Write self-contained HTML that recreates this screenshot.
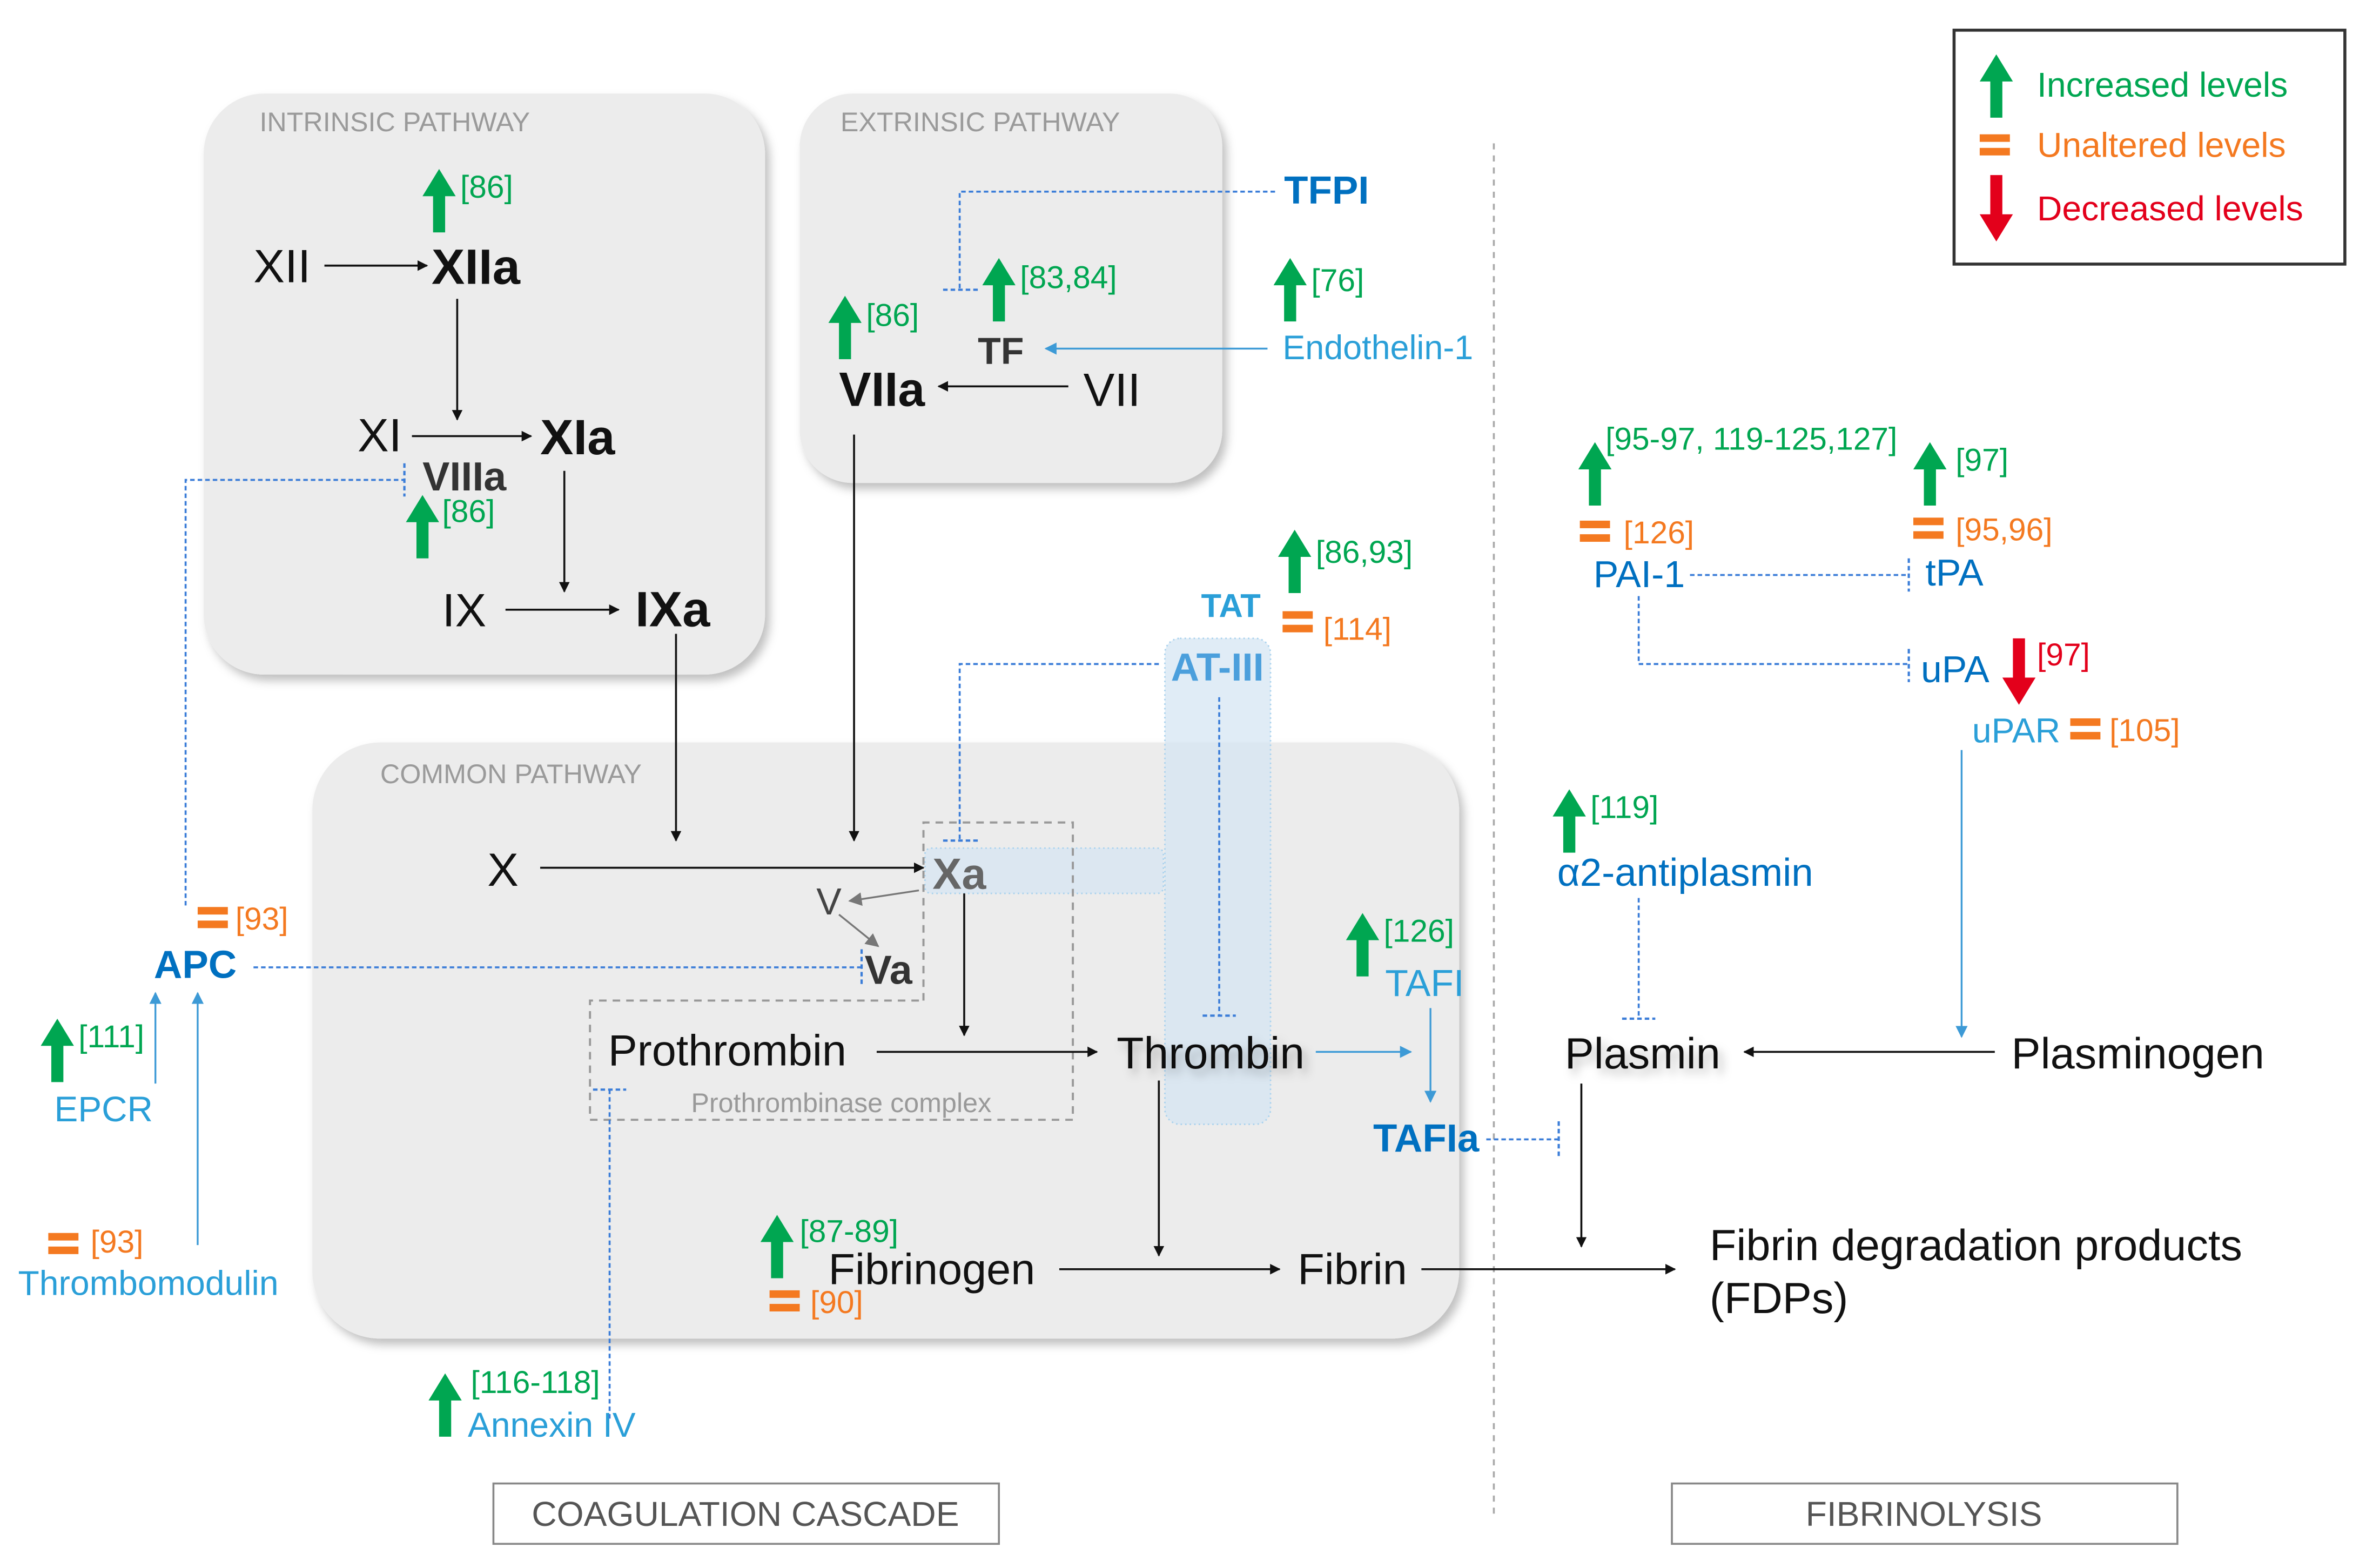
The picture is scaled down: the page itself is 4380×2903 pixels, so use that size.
<!DOCTYPE html>
<html><head><meta charset="utf-8"><style>
html,body{margin:0;padding:0;background:#fff}
svg{display:block}
text{font-family:"Liberation Sans",Arial,sans-serif}
.g{fill:#00a651;font-size:21px}
.o{fill:#f47920;font-size:21px}
.b{fill:#0070c0}
.lb{fill:#2a9fd8}
.k{fill:#111}
.lbl{fill:#9a9a9a;font-size:18px}
</style></head><body>
<svg width="4380" height="2903" viewBox="0 0 1568 1039" preserveAspectRatio="none" xmlns="http://www.w3.org/2000/svg">
<defs>
<path id="up" d="M0 0 L11 18 L4 18 L4 42 L-4 42 L-4 18 L-11 18 Z" fill="#00a651"/>
<path id="dn" d="M0 44 L11 26 L4 26 L4 0 L-4 0 L-4 26 L-11 26 Z" fill="#e3001b"/>
<g id="eq"><rect x="0" y="0" width="20" height="5" fill="#f47920"/><rect x="0" y="9" width="20" height="5" fill="#f47920"/></g>
<marker id="ah" viewBox="0 0 10 10" refX="9" refY="5" markerWidth="7" markerHeight="7" orient="auto" markerUnits="userSpaceOnUse"><path d="M0 0L10 5L0 10Z" fill="#111"/></marker>
<marker id="ahg" viewBox="0 0 10 10" refX="9" refY="5" markerWidth="9" markerHeight="9" orient="auto" markerUnits="userSpaceOnUse"><path d="M0 0L10 5L0 10Z" fill="#777"/></marker>
<marker id="ahb" viewBox="0 0 10 10" refX="9" refY="5" markerWidth="8" markerHeight="8" orient="auto" markerUnits="userSpaceOnUse"><path d="M0 0L10 5L0 10Z" fill="#3d9ad6"/></marker>
<filter id="sh" x="-10%" y="-10%" width="120%" height="120%"><feDropShadow dx="3" dy="4" stdDeviation="3" flood-color="#000" flood-opacity="0.25"/></filter>
</defs>
<rect width="1568" height="1039" fill="#fff"/>
<!-- boxes -->
<rect x="135" y="62" width="372" height="385" rx="40" fill="#ececec" filter="url(#sh)"/>
<rect x="530" y="62" width="280" height="258" rx="35" fill="#ececec" filter="url(#sh)"/>
<rect x="207" y="492" width="760" height="395" rx="45" fill="#ececec" filter="url(#sh)"/>
<text x="172" y="87" class="lbl">INTRINSIC PATHWAY</text>
<text x="557" y="87" class="lbl">EXTRINSIC PATHWAY</text>
<text x="252" y="519" class="lbl">COMMON PATHWAY</text>
<line x1="990" y1="95" x2="990" y2="1005" stroke="#aaa" stroke-width="1.3" stroke-dasharray="4 4"/>
<!-- legend -->
<rect x="1295" y="20" width="259" height="155" fill="#fff" stroke="#333" stroke-width="2"/>
<use href="#up" x="1323" y="36"/>
<text x="1350" y="64" style="fill:#00a651;font-size:23px">Increased levels</text>
<use href="#eq" x="1312" y="89"/>
<text x="1350" y="104" style="fill:#f47920;font-size:23px">Unaltered levels</text>
<use href="#dn" x="1323" y="116"/>
<text x="1350" y="146" style="fill:#e3001b;font-size:23px">Decreased levels</text>
<!-- bottom labels -->
<rect x="327" y="983" width="335" height="40" fill="#fff" stroke="#888" stroke-width="1.3"/>
<text x="494" y="1011" text-anchor="middle" style="fill:#555;font-size:23px">COAGULATION CASCADE</text>
<rect x="1108" y="983" width="335" height="40" fill="#fff" stroke="#888" stroke-width="1.3"/>
<text x="1275" y="1011" text-anchor="middle" style="fill:#555;font-size:23px">FIBRINOLYSIS</text>

<!-- intrinsic -->
<use href="#up" x="291" y="112"/><text x="305" y="131" class="g">[86]</text>
<text x="168" y="187" class="k" style="font-size:31px">XII</text>
<line x1="215" y1="176" x2="283" y2="176" stroke="#111" stroke-width="1.3" marker-end="url(#ah)"/>
<text x="286" y="188" class="k" style="font-size:33px;font-weight:bold">XIIa</text>
<line x1="303" y1="198" x2="303" y2="278" stroke="#111" stroke-width="1.3" marker-end="url(#ah)"/>
<text x="237" y="299" class="k" style="font-size:31px">XI</text>
<line x1="273" y1="289" x2="352" y2="289" stroke="#111" stroke-width="1.3" marker-end="url(#ah)"/>
<text x="358" y="301" class="k" style="font-size:33px;font-weight:bold">XIa</text>
<text x="280" y="325" style="fill:#333;font-size:27px;font-weight:bold">VIIIa</text>
<use href="#up" x="280" y="328"/><text x="293" y="346" class="g">[86]</text>
<line x1="374" y1="312" x2="374" y2="392" stroke="#111" stroke-width="1.3" marker-end="url(#ah)"/>
<text x="293" y="415" class="k" style="font-size:31px">IX</text>
<line x1="335" y1="404" x2="410" y2="404" stroke="#111" stroke-width="1.3" marker-end="url(#ah)"/>
<text x="421" y="415" class="k" style="font-size:33px;font-weight:bold">IXa</text>
<line x1="448" y1="420" x2="448" y2="557" stroke="#111" stroke-width="1.3" marker-end="url(#ah)"/>
<path d="M123 600 V318 H268" fill="none" stroke="#3b7dd8" stroke-width="1.3" stroke-dasharray="3 2"/>
<line x1="268" y1="307" x2="268" y2="329" stroke="#3b7dd8" stroke-width="1.5" stroke-dasharray="3 2"/>

<!-- extrinsic -->
<text x="851" y="135" class="b" style="font-size:26px;font-weight:bold">TFPI</text>
<path d="M845 127 H636 V192" fill="none" stroke="#3b7dd8" stroke-width="1.3" stroke-dasharray="3 2"/>
<line x1="625" y1="192" x2="648" y2="192" stroke="#3b7dd8" stroke-width="1.5" stroke-dasharray="3 2"/>
<use href="#up" x="662" y="171"/><text x="676" y="191" class="g">[83,84]</text>
<text x="648" y="241" style="fill:#333;font-size:25px;font-weight:bold">TF</text>
<use href="#up" x="560" y="196"/><text x="574" y="216" class="g">[86]</text>
<text x="556" y="269" class="k" style="font-size:32px;font-weight:bold">VIIa</text>
<line x1="708" y1="256" x2="622" y2="256" stroke="#111" stroke-width="1.3" marker-end="url(#ah)"/>
<text x="718" y="269" class="k" style="font-size:31px">VII</text>
<use href="#up" x="855" y="171"/><text x="869" y="193" class="g">[76]</text>
<text x="850" y="238" class="lb" style="font-size:22.5px">Endothelin-1</text>
<line x1="840" y1="231" x2="693" y2="231" stroke="#3d9ad6" stroke-width="1.2" marker-end="url(#ahb)"/>
<line x1="566" y1="288" x2="566" y2="557" stroke="#111" stroke-width="1.3" marker-end="url(#ah)"/>

<!-- AT-III / TAT -->
<rect x="772" y="423" width="70" height="322" rx="10" fill="#d6e6f3" fill-opacity="0.75" stroke="#a9d2ee" stroke-width="1" stroke-dasharray="1 2"/>
<rect x="613" y="562" width="158" height="30" rx="4" fill="#d6e6f3" fill-opacity="0.7" stroke="#a9d2ee" stroke-width="1" stroke-dasharray="1 2"/>
<text x="796" y="409" class="lb" style="font-size:22px;font-weight:bold">TAT</text>
<use href="#up" x="858" y="351"/><text x="872" y="373" class="g">[86,93]</text>
<use href="#eq" x="850" y="405"/><text x="877" y="424" class="o">[114]</text>
<text x="776" y="451" style="fill:#4b9fdc;font-size:26px;font-weight:bold">AT-III</text>
<path d="M768 440 H636 V557" fill="none" stroke="#3b7dd8" stroke-width="1.3" stroke-dasharray="3 2"/>
<line x1="625" y1="557" x2="648" y2="557" stroke="#3b7dd8" stroke-width="1.5" stroke-dasharray="3 2"/>
<line x1="808" y1="462" x2="808" y2="673" stroke="#3b7dd8" stroke-width="1.3" stroke-dasharray="3 2"/>
<line x1="797" y1="673" x2="819" y2="673" stroke="#3b7dd8" stroke-width="1.5" stroke-dasharray="3 2"/>

<!-- common -->
<path d="M612 663 V545 H711 V742 H391 V663 H612" fill="none" stroke="#999" stroke-width="1.4" stroke-dasharray="5 4"/>
<text x="323" y="587" class="k" style="font-size:31px">X</text>
<line x1="358" y1="575" x2="612" y2="575" stroke="#111" stroke-width="1.3" marker-end="url(#ah)"/>
<text x="618" y="589" style="fill:#666;font-size:29px;font-weight:bold">Xa</text>
<text x="541" y="606" style="fill:#444;font-size:25px">V</text>
<line x1="609" y1="590" x2="563" y2="597" stroke="#777" stroke-width="1.2" marker-end="url(#ahg)"/>
<line x1="556" y1="606" x2="582" y2="627" stroke="#777" stroke-width="1.2" marker-end="url(#ahg)"/>
<text x="573" y="652" style="fill:#333;font-size:27px;font-weight:bold">Va</text>
<line x1="168" y1="641" x2="571" y2="641" stroke="#3b7dd8" stroke-width="1.3" stroke-dasharray="3 2"/>
<line x1="571" y1="629" x2="571" y2="654" stroke="#3b7dd8" stroke-width="1.5" stroke-dasharray="3 2"/>
<text x="403" y="706" class="k" style="font-size:29px">Prothrombin</text>
<line x1="581" y1="697" x2="727" y2="697" stroke="#111" stroke-width="1.3" marker-end="url(#ah)"/>
<line x1="639" y1="592" x2="639" y2="686" stroke="#111" stroke-width="1.3" marker-end="url(#ah)"/>
<text x="458" y="737" style="fill:#999;font-size:18px">Prothrombinase complex</text>
<text x="740" y="708" class="k" style="font-size:29.5px" filter="url(#sh)">Thrombin</text>
<line x1="872" y1="697" x2="935" y2="697" stroke="#3d9ad6" stroke-width="1.2" marker-end="url(#ahb)"/>
<use href="#up" x="903" y="605"/><text x="917" y="624" class="g">[126]</text>
<text x="918" y="660" class="lb" style="font-size:25px">TAFI</text>
<line x1="948" y1="668" x2="948" y2="730" stroke="#3d9ad6" stroke-width="1.2" marker-end="url(#ahb)"/>
<text x="910" y="763" class="b" style="font-size:26px;font-weight:bold">TAFIa</text>
<line x1="985" y1="755" x2="1033" y2="755" stroke="#3b7dd8" stroke-width="1.3" stroke-dasharray="3 2"/>
<line x1="1033" y1="743" x2="1033" y2="767" stroke="#3b7dd8" stroke-width="1.5" stroke-dasharray="3 2"/>
<line x1="768" y1="716" x2="768" y2="832" stroke="#111" stroke-width="1.3" marker-end="url(#ah)"/>
<use href="#up" x="515" y="805"/><text x="530" y="823" class="g">[87-89]</text>
<text x="549" y="851" class="k" style="font-size:29px">Fibrinogen</text>
<use href="#eq" x="510" y="855"/><text x="537" y="870" class="o">[90]</text>
<line x1="702" y1="841" x2="848" y2="841" stroke="#111" stroke-width="1.3" marker-end="url(#ah)"/>
<text x="860" y="851" class="k" style="font-size:29px">Fibrin</text>
<line x1="942" y1="841" x2="1110" y2="841" stroke="#111" stroke-width="1.3" marker-end="url(#ah)"/>
<!-- Annexin -->
<use href="#up" x="295" y="910"/><text x="312" y="923" class="g">[116-118]</text>
<text x="310" y="952" class="lb" style="font-size:23px">Annexin IV</text>
<line x1="404" y1="940" x2="404" y2="722" stroke="#3b7dd8" stroke-width="1.3" stroke-dasharray="3 2"/>
<line x1="393" y1="722" x2="415" y2="722" stroke="#3b7dd8" stroke-width="1.5" stroke-dasharray="3 2"/>
<!-- APC side -->
<use href="#eq" x="131" y="601"/><text x="156" y="616" class="o">[93]</text>
<text x="102" y="648" class="b" style="font-size:26px;font-weight:bold">APC</text>
<use href="#up" x="38" y="675"/><text x="52" y="694" class="g">[111]</text>
<text x="36" y="743" class="lb" style="font-size:23.5px">EPCR</text>
<line x1="103" y1="718" x2="103" y2="658" stroke="#3d9ad6" stroke-width="1.2" marker-end="url(#ahb)"/>
<use href="#eq" x="32" y="817"/><text x="60" y="830" class="o">[93]</text>
<text x="12" y="858" class="lb" style="font-size:23px">Thrombomodulin</text>
<line x1="131" y1="825" x2="131" y2="658" stroke="#3d9ad6" stroke-width="1.2" marker-end="url(#ahb)"/>

<!-- fibrinolysis -->
<use href="#up" x="1057" y="293"/><text x="1064" y="298" class="g">[95-97, 119-125,127]</text>
<use href="#eq" x="1047" y="345"/><text x="1076" y="360" class="o">[126]</text>
<text x="1056" y="389" class="b" style="font-size:25px">PAI-1</text>
<use href="#up" x="1279" y="293"/><text x="1296" y="312" class="g">[97]</text>
<use href="#eq" x="1268" y="343"/><text x="1296" y="358" class="o">[95,96]</text>
<text x="1276" y="388" class="b" style="font-size:25px">tPA</text>
<line x1="1120" y1="381" x2="1265" y2="381" stroke="#3b7dd8" stroke-width="1.3" stroke-dasharray="3 2"/>
<line x1="1265" y1="370" x2="1265" y2="392" stroke="#3b7dd8" stroke-width="1.5" stroke-dasharray="3 2"/>
<path d="M1086 395 V440 H1265" fill="none" stroke="#3b7dd8" stroke-width="1.3" stroke-dasharray="3 2"/>
<line x1="1265" y1="430" x2="1265" y2="452" stroke="#3b7dd8" stroke-width="1.5" stroke-dasharray="3 2"/>
<text x="1273" y="452" class="b" style="font-size:25px">uPA</text>
<use href="#dn" x="1338" y="423"/><text x="1350" y="441" style="fill:#e3001b;font-size:21px">[97]</text>
<text x="1307" y="492" class="lb" style="font-size:23px">uPAR</text>
<use href="#eq" x="1372" y="476"/><text x="1398" y="491" class="o">[105]</text>
<line x1="1300" y1="497" x2="1300" y2="687" stroke="#3d9ad6" stroke-width="1.2" marker-end="url(#ahb)"/>
<use href="#up" x="1040" y="523"/><text x="1054" y="542" class="g">[119]</text>
<text x="1032" y="587" class="b" style="font-size:26px">α2-antiplasmin</text>
<line x1="1086" y1="595" x2="1086" y2="675" stroke="#3b7dd8" stroke-width="1.3" stroke-dasharray="3 2"/>
<line x1="1075" y1="675" x2="1097" y2="675" stroke="#3b7dd8" stroke-width="1.5" stroke-dasharray="3 2"/>
<text x="1037" y="708" class="k" style="font-size:29px" filter="url(#sh)">Plasmin</text>
<line x1="1322" y1="697" x2="1156" y2="697" stroke="#111" stroke-width="1.3" marker-end="url(#ah)"/>
<text x="1333" y="708" class="k" style="font-size:29px">Plasminogen</text>
<line x1="1048" y1="718" x2="1048" y2="826" stroke="#111" stroke-width="1.3" marker-end="url(#ah)"/>
<text x="1133" y="835" class="k" style="font-size:29px">Fibrin degradation products</text>
<text x="1133" y="870" class="k" style="font-size:29px">(FDPs)</text>
</svg>
</body></html>
